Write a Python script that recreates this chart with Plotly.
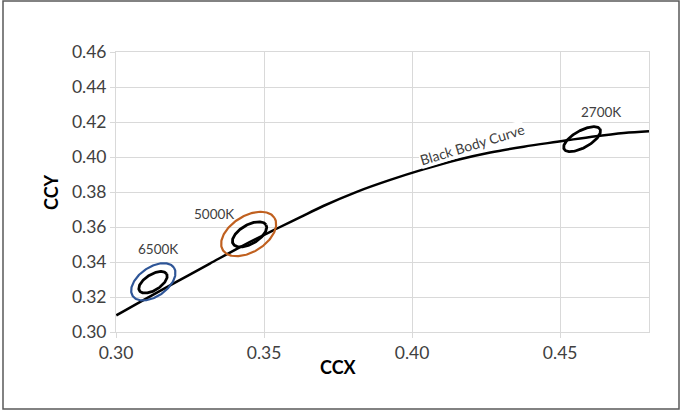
import numpy as np
import plotly.graph_objects as go

# Black body curve (CCX, CCY)
curve_x = [0.3001, 0.3091, 0.3204, 0.3317, 0.3429, 0.3542, 0.3621, 0.3700, 0.3813, 0.3926,
           0.4038, 0.4151, 0.4264, 0.4377, 0.4490, 0.4602, 0.4715, 0.4800]
curve_y = [0.3095, 0.3181, 0.3286, 0.3391, 0.3494, 0.3590, 0.3655, 0.3720, 0.3801, 0.3869,
           0.3929, 0.3983, 0.4026, 0.4059, 0.4087, 0.4114, 0.4137, 0.4147]

# Tolerance ellipses: centre, semi-axes (in CCX units), tilt in screen degrees
ell_names = ["6500K outer", "6500K inner", "5000K outer", "5000K inner", "2700K"]
ell_cx = [0.3126, 0.3125, 0.3448, 0.3451, 0.4574]
ell_cy = [0.3287, 0.3284, 0.3560, 0.3558, 0.4102]
ell_a = [0.00846, 0.00541, 0.01028, 0.00643, 0.00694]
ell_b = [0.00491, 0.00267, 0.00609, 0.00321, 0.00288]
ell_angle = [35, 32, 32, 30, 29]
ell_color = ["#2e5597", "#000000", "#c0601f", "#000000", "#000000"]

labels = ["6500K", "5000K", "2700K"]
label_x = [0.3141, 0.3331, 0.4637]
label_y = [0.3473, 0.3677, 0.4256]

x_range = [0.30, 0.48]
y_range = [0.30, 0.46]
x_ticks = [0.30, 0.35, 0.40, 0.45]
y_ticks = [0.30, 0.32, 0.34, 0.36, 0.38, 0.40, 0.42, 0.44, 0.46]

W, H = 681, 410
ml, mr, mt, mb = 116, 32, 52, 78
pw = W - ml - mr
ph = H - mt - mb
ratio = (pw / (x_range[1] - x_range[0])) / (ph / (y_range[1] - y_range[0]))

fig = go.Figure()
fig.add_trace(go.Scatter(x=curve_x, y=curve_y, mode="lines",
                         line=dict(color="black", width=2.5, shape="spline", smoothing=1.0),
                         hoverinfo="skip", showlegend=False))

t = np.linspace(0, 2 * np.pi, 200)
for cx, cy, a, b, ang, col in zip(ell_cx, ell_cy, ell_a, ell_b, ell_angle, ell_color):
    th = np.deg2rad(ang)
    dx = a * np.cos(t) * np.cos(th) - b * np.sin(t) * np.sin(th)
    dy = (a * np.cos(t) * np.sin(th) + b * np.sin(t) * np.cos(th)) * ratio
    fig.add_trace(go.Scatter(x=cx + dx, y=cy + dy, mode="lines",
                             line=dict(color=col, width=2.8 if col == "#000000" else 2.2),
                             hoverinfo="skip", showlegend=False))

font_family = "Lato, 'Open Sans', sans-serif"
annotations = []
for txt, lx, ly in zip(labels, label_x, label_y):
    annotations.append(dict(x=lx, y=ly, text=txt, showarrow=False,
                            font=dict(family=font_family, size=13.5, color="#404040")))
annotations.append(dict(x=0.4203, y=0.4073, text="Black Body Curve", showarrow=False,
                        textangle=-17, bgcolor="white", borderpad=0,
                        font=dict(family=font_family, size=14, color="#404040")))
annotations.append(dict(xref="paper", yref="paper", x=(338 - ml) / pw, y=(mt + ph - 380) / ph,
                        text="<b>CCX</b>", showarrow=False,
                        font=dict(family=font_family, size=18, color="black")))
annotations.append(dict(xref="paper", yref="paper", x=(38 - ml) / pw, y=0.5,
                        text="<b>CCY</b>", showarrow=False, textangle=-90,
                        font=dict(family=font_family, size=18, color="black")))

axis_common = dict(showgrid=True, gridcolor="#d9d9d9", gridwidth=1,
                   showline=True, linecolor="#d9d9d9", linewidth=1, mirror=True,
                   ticks="outside", ticklen=5, tickcolor="#d9d9d9",
                   zeroline=False,
                   tickfont=dict(family=font_family, size=17.5, color="#404040"))

fig.update_layout(
    width=W, height=H,
    margin=dict(l=ml, r=mr, t=mt, b=mb),
    paper_bgcolor="white", plot_bgcolor="white",
    xaxis=dict(range=x_range, tickvals=x_ticks, ticktext=[f"{v:.2f}" for v in x_ticks], **axis_common),
    yaxis=dict(range=y_range, tickvals=y_ticks, ticktext=[f"{v:.2f}" for v in y_ticks], **axis_common),
    annotations=annotations,
    shapes=[dict(type="rect", xref="paper", yref="paper",
                 x0=(3 - ml) / pw, x1=(679 - ml) / pw,
                 y0=(mt + ph - 409) / ph, y1=(mt + ph - 1) / ph,
                 line=dict(color="#595959", width=1.5), layer="below")],
)

fig.write_html("out.html", config={"displayModeBar": False},
               post_script="document.body.style.margin='0';document.body.style.padding='0';"
                           "document.documentElement.style.overflow='hidden';")
